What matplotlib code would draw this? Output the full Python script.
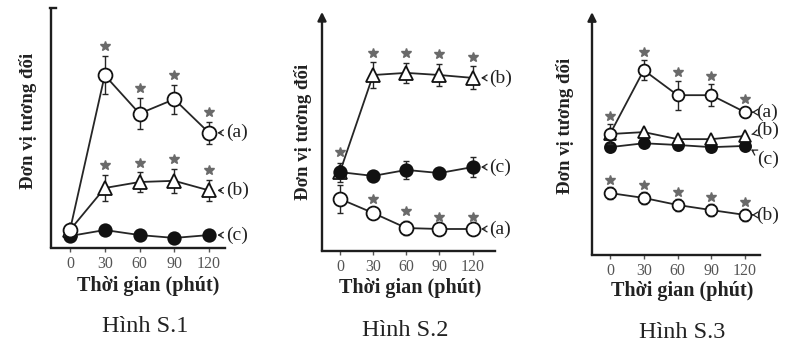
import matplotlib
matplotlib.use("Agg")
import matplotlib.pyplot as plt

plt.rcParams['font.family'] = ['Liberation Serif', 'DejaVu Serif']

times = [0, 30, 60, 90, 120]
tick_labels = ["0", "30", "60", "90", "120"]

# Hình S.1
s1_a = [7.5, 72, 56, 62, 48]
s1_a_err = [0, 8, 6.5, 6, 4.5]
s1_a_star = [False, True, True, True, True]
s1_b = [7.5, 25, 27.5, 28, 24]
s1_b_err = [0, 5.5, 4, 5, 4.5]
s1_b_star = [False, True, True, True, True]
s1_c = [5, 7.5, 5.4, 4.2, 5.4]

# Hình S.2
s2_a = [21.8, 15.9, 9.6, 9.2, 9.2]
s2_a_err = [6, 2, 3, 1, 1]
s2_a_star = [False, True, True, True, True]
s2_b = [33, 73.6, 74.5, 73.6, 72.4]
s2_b_err = [0, 5.4, 4.2, 4.8, 4.8]
s2_b_star = [False, True, True, True, True]
s2_c = [33, 31.4, 33.9, 32.6, 35.1]
s2_c_err = [4, 2, 3.8, 2, 4.2]
s2_c_star = [True, False, False, False, False]

# Hình S.3
s3_a = [49.8, 76.1, 65.8, 65.8, 58.8]
s3_a_err = [4, 4, 6, 4.5, 2]
s3_a_star = [True, True, True, True, True]
s3_b = [49.8, 50.6, 47.7, 47.7, 49]
s3_c = [44.4, 46, 45.3, 44.4, 44.9]
s3_b2 = [25.5, 23.5, 20.6, 18.5, 16.5]
s3_b2_err = [2.5, 2.5, 2.5, 2.5, 2.5]
s3_b2_star = [True, True, True, True, True]

LINE = '#262626'
STAR = '#6a6a6a'

fig = plt.figure(figsize=(8, 3.46), dpi=100)


def make_axes(rect, xlim, arrow_top=True):
    ax = fig.add_axes(rect)
    ax.set_xlim(*xlim)
    ax.set_ylim(0, 100)
    for s in ('top', 'right', 'left'):
        ax.spines[s].set_visible(False)
    ax.spines['bottom'].set_linewidth(1.7)
    ax.spines['bottom'].set_color('#1e1e1e')
    ax.set_yticks([])
    ax.set_xticks(times)
    ax.set_xticklabels(tick_labels)
    ax.tick_params(axis='x', direction='out', length=3, width=1,
                   color='#555555', labelsize=11.5, labelcolor='#555555', pad=3)
    # vertical axis drawn as an arrow
    if arrow_top:
        ax.annotate('', xy=(0, 1.0), xytext=(0, 0), xycoords='axes fraction',
                    arrowprops=dict(arrowstyle='-|>,head_length=0.5,head_width=0.25',
                                    lw=1.7, color='#1e1e1e', shrinkA=0, shrinkB=0))
    else:
        ax.plot([0, 0], [0, 1.0], transform=ax.transAxes, color='#1e1e1e',
                lw=1.7, clip_on=False, solid_capstyle='butt')
        ax.plot([-0.005, 0.03], [1.0, 1.0], transform=ax.transAxes, color='#1e1e1e',
                lw=1.7, clip_on=False)
    return ax


def series(ax, y, marker, face, ms, err=None, stars=None, gap=4.0, mew=1.3,
           lw=1.3, z=3):
    if err is not None:
        ax.errorbar(times, y, yerr=err, fmt='none', ecolor=LINE, elinewidth=1.0,
                    capsize=2.3, capthick=1.0, zorder=z - 0.5, clip_on=False)
    ax.plot(times, y, color=LINE, lw=lw, marker=marker, ms=ms, mfc=face,
            mec='#111111', mew=mew, zorder=z, clip_on=False)
    if stars is not None:
        e = err if err is not None else [0] * len(y)
        for t, v, ev, s in zip(times, y, e, stars):
            if s:
                ax.plot(t, v + ev + gap, marker='*', ms=7, color=STAR,
                        mec=STAR, zorder=z + 1, clip_on=False)


def label(ax, text, y, dx=12, dy=0, sx=6):
    ax.annotate(text, xy=(120, y), xytext=(dx, dy), textcoords='offset points',
                xycoords='data', ha='left', va='center', fontsize=14,
                color='#222222', annotation_clip=False,
                arrowprops=dict(arrowstyle='->,head_length=0.25,head_width=0.15',
                                lw=0.9, color='#222222', shrinkA=1, shrinkB=sx))


# ---- Hình S.1 ----
ax1 = make_axes([0.06375, 0.2832, 0.2175, 0.6936], (-16.4, 133.8), arrow_top=False)
series(ax1, s1_c, 'o', '#111111', 9, z=3)
series(ax1, s1_b, '^', 'white', 10, s1_b_err, s1_b_star, z=4)
series(ax1, s1_a, 'o', 'white', 10, s1_a_err, s1_a_star, z=5)
label(ax1, '(a)', s1_a[-1])
label(ax1, '(b)', s1_b[-1])
label(ax1, '(c)', s1_c[-1])

# ---- Hình S.2 ----
ax2 = make_axes([0.4025, 0.2746, 0.216, 0.691], (-16.2, 140))
series(ax2, s2_b, '^', 'white', 10, s2_b_err, s2_b_star, z=3)
series(ax2, s2_c, 'o', '#111111', 9, s2_c_err, s2_c_star, gap=4.5, z=5)
series(ax2, s2_a, 'o', 'white', 10, s2_a_err, s2_a_star, z=4)
label(ax2, '(b)', s2_b[-1])
label(ax2, '(c)', s2_c[-1])
label(ax2, '(a)', s2_a[-1])

# ---- Hình S.3 ----
ax3 = make_axes([0.74, 0.263, 0.21, 0.702], (-16, 133.3))
series(ax3, s3_c, 'o', '#111111', 8, z=3)
series(ax3, s3_b, '^', 'white', 8, z=4)
series(ax3, s3_b2, 'o', 'white', 8.5, s3_b2_err, s3_b2_star, gap=3.0, z=4)
series(ax3, s3_a, 'o', 'white', 8.5, s3_a_err, s3_a_star, gap=3.5, z=5)
label(ax3, '(a)', s3_a[-1], dx=8, sx=5)
label(ax3, '(b)', s3_b[-1], dx=8, dy=4, sx=5)
label(ax3, '(c)', s3_c[-1], dx=9, dy=-10, sx=5)
label(ax3, '(b)', s3_b2[-1], dx=8, sx=5)

# axis titles and captions
ylab = dict(rotation=90, ha='center', va='center', fontsize=13.5,
            fontweight='bold', color='#222222')
xlab = dict(ha='center', va='center', fontsize=14.5, fontweight='bold', color='#222222')
cap = dict(ha='center', va='center', fontsize=17.5, color='#222222')

fig.text(0.035, 0.65, 'Đơn vị tương đối', **ylab)
fig.text(0.379, 0.619, 'Đơn vị tương đối', **ylab)
fig.text(0.706, 0.636, 'Đơn vị tương đối', **ylab)

fig.text(0.185, 0.174, 'Thời gian (phút)', **xlab)
fig.text(0.5125, 0.168, 'Thời gian (phút)', **xlab)
fig.text(0.8525, 0.160, 'Thời gian (phút)', **xlab)

fig.text(0.181, 0.055, 'Hình S.1', **cap)
fig.text(0.507, 0.046, 'Hình S.2', **cap)
fig.text(0.853, 0.040, 'Hình S.3', **cap)

fig.savefig('out.png', dpi=100)
